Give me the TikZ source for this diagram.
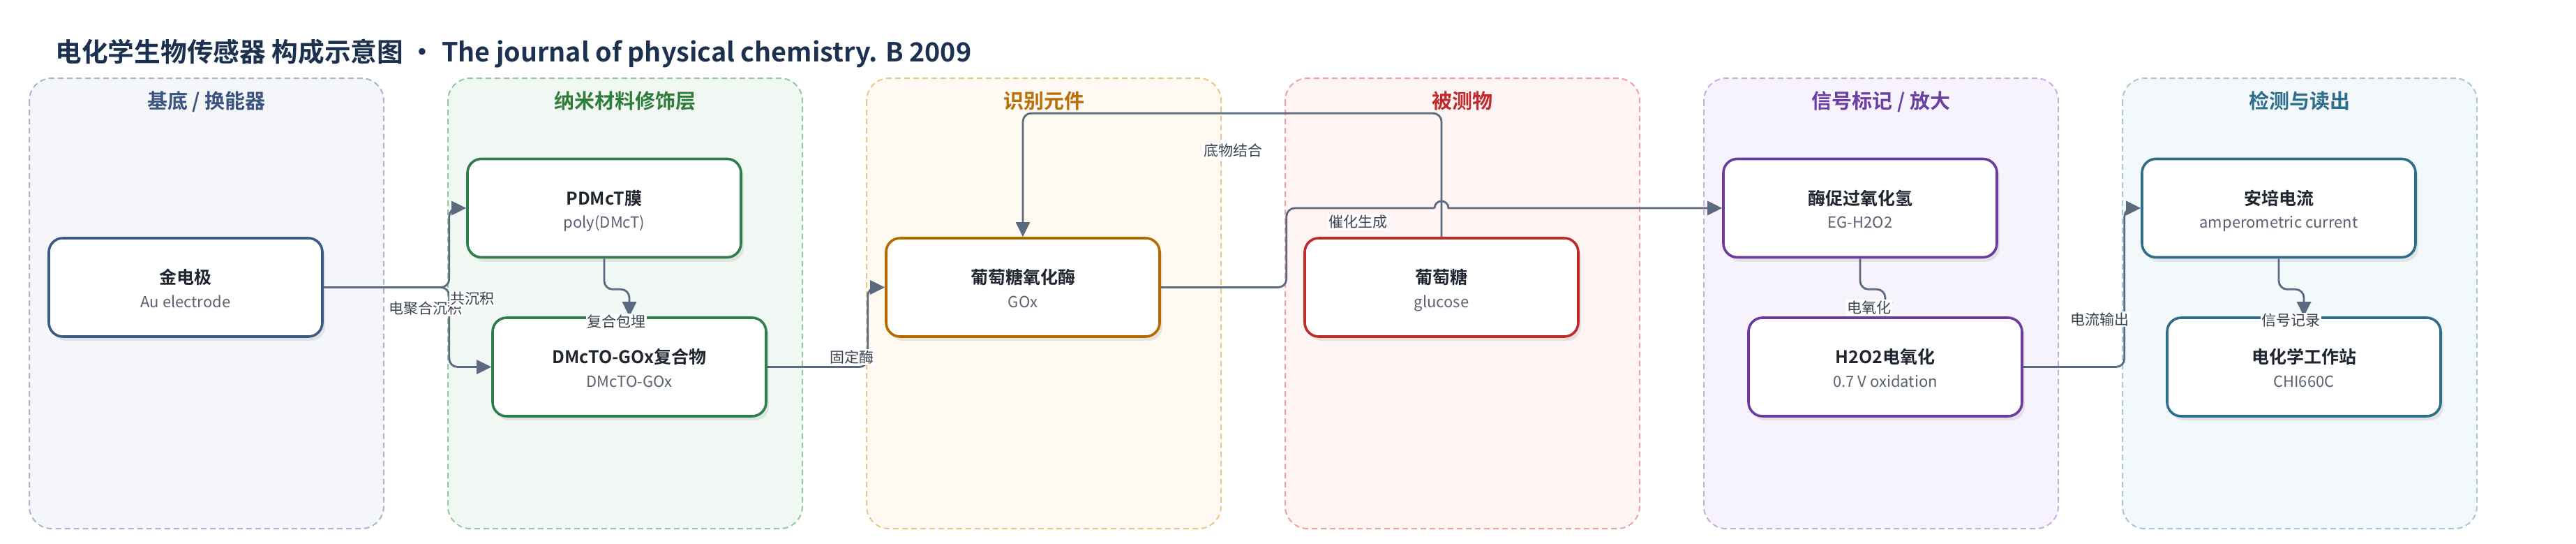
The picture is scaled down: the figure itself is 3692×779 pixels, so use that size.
\documentclass[tikz,border=0pt]{standalone}
\usepackage{fontspec}
\setmainfont{Noto Sans CJK SC}[BoldFont={Noto Sans CJK SC Bold}]
\usetikzlibrary{arrows.meta,shadows}

\definecolor{edgegray}{HTML}{5B6A7F}
\definecolor{titlenavy}{HTML}{1C3150}
\definecolor{boxtxt}{HTML}{1F2630}
\definecolor{subtxt}{HTML}{596271}
\definecolor{lbltxt}{HTML}{3A4250}
% panel colours: fill, dashed line, heading, box border
\definecolor{fillA}{HTML}{F4F6FA}\definecolor{lineA}{HTML}{AAB6CA}\definecolor{headA}{HTML}{3B5580}\definecolor{boxA}{HTML}{3E5A82}
\definecolor{fillB}{HTML}{F1F8F3}\definecolor{lineB}{HTML}{93C9A0}\definecolor{headB}{HTML}{2E7D3A}\definecolor{boxB}{HTML}{2E7D4A}
\definecolor{fillC}{HTML}{FEF9F1}\definecolor{lineC}{HTML}{EBC68C}\definecolor{headC}{HTML}{B8700B}\definecolor{boxC}{HTML}{B36A00}
\definecolor{fillD}{HTML}{FEF4F4}\definecolor{lineD}{HTML}{EBA3A3}\definecolor{headD}{HTML}{C02A2A}\definecolor{boxD}{HTML}{BF2A2A}
\definecolor{fillE}{HTML}{F7F3FC}\definecolor{lineE}{HTML}{C6AEE2}\definecolor{headE}{HTML}{6B3FA3}\definecolor{boxE}{HTML}{6A3C9E}
\definecolor{fillF}{HTML}{F3F8FA}\definecolor{lineF}{HTML}{A9C7D6}\definecolor{headF}{HTML}{2E6E8C}\definecolor{boxF}{HTML}{2F6E88}

\tikzset{
	panel/.style={rounded corners=32pt, line width=2pt, dash pattern=on 8pt off 5pt},
	panelhead/.style={anchor=base, font=\bfseries\fontsize{29}{34}\selectfont},
	sensorbox/.style={draw=#1, line width=3.6pt, rounded corners=20pt, fill=white,
		minimum width=392pt, minimum height=141pt,
		drop shadow={shadow xshift=4pt, shadow yshift=-6pt, opacity=0.16}},
	boxhead/.style={anchor=base, text=boxtxt, font=\bfseries\fontsize{25}{30}\selectfont},
	boxsub/.style={anchor=base, text=subtxt, font=\fontsize{22}{26}\selectfont},
	link/.style={draw=edgegray, line width=2.8pt, rounded corners=12pt, -{Triangle[length=21pt,width=20pt]}},
	linklbl/.style={fill=white, inner sep=1.5pt, text=lbltxt, font=\fontsize{21}{25}\selectfont}
}

% name, colour, position, heading, subtitle
\newcommand\sensornode[5]{%
	\node[sensorbox=#2] (#1) at (#3) {};
	\node[boxhead] (#1-head) at ([yshift=5pt]#1.center) {#4};
	\node[boxsub] (#1-sub) at ([yshift=-28.5pt]#1.center) {#5};
}

\begin{document}
\begin{tikzpicture}[x=1pt, y=-1pt]
		\useasboundingbox (0,0) rectangle (3692,779);
		
		\node[anchor=base west, text=titlenavy, font=\bfseries\fontsize{37.7}{44}\selectfont] (title) at (76,88.7)
			{电化学生物传感器 构成示意图 • The journal of physical chemistry. B 2009};
		
		%%%%% PANELS %%%%%
		\foreach \i/\k/\name in {0/A/{基底 / 换能器}, 1/B/{纳米材料修饰层}, 2/C/{识别元件},
				3/D/{被测物}, 4/E/{信号标记 / 放大}, 5/F/{检测与读出}} {
			\draw[panel, draw=line\k, fill=fill\k] (42+600*\i,112) rectangle ++(508,645);
			\node[panelhead, text=head\k] (head\k) at (296+600*\i,155.5) {\name};
		}
		
		%%%%% BOXES %%%%%
		\sensornode{au}{boxA}{266,411.5}{金电极}{Au electrode}
		\sensornode{pdmct}{boxB}{866,298}{PDMcT膜}{poly(DMcT)}
		\sensornode{comp}{boxB}{902,525.5}{DMcTO-GOx复合物}{DMcTO-GOx}
		\sensornode{gox}{boxC}{1466,411.5}{葡萄糖氧化酶}{GOx}
		\sensornode{glu}{boxD}{2066,411.5}{葡萄糖}{glucose}
		\sensornode{enz}{boxE}{2666,298}{酶促过氧化氢}{EG-H2O2}
		\sensornode{ox}{boxE}{2702,525.5}{H2O2电氧化}{0.7 V oxidation}
		\sensornode{amp}{boxF}{3266,298}{安培电流}{amperometric current}
		\sensornode{chi}{boxF}{3302,525.5}{电化学工作站}{CHI660C}
		
		%%%%% LINKS %%%%%
		\draw[link] (au.east) -- ++(180,0) |- (pdmct.west);
		\draw[link] (au.east) -- ++(180,0) |- (comp.west);
		\draw[link] (pdmct.south) -- ++(0,44) -| (comp.north);
		\draw[link] (comp.east) -- ++(144,0) |- (gox.west);
		\draw[link] (glu.north) -- ++(0,-177) -| (gox.north);
		\coordinate (hop) at (glu.north |- enz.west);
		\draw[link, -] (gox.east) -- ++(180,0) |- ([xshift=-10pt]hop);
		\draw[link, sharp corners] ([xshift=-10pt]hop) arc[start angle=180, end angle=0, radius=10pt] -- (enz.west);
		\draw[link] (enz.south) -- ++(0,44) -| (ox.north);
		\draw[link] (ox.east) -- ++(145,0) |- (amp.west);
		\draw[link] (amp.south) -- ++(0,44) -| (chi.north);
		
		\node[linklbl] (lbl-poly) at (610,442) {电聚合沉积};
		\node[linklbl] (lbl-codep) at (676.5,428) {共沉积};
		\node[linklbl] (lbl-embed) at (883.5,460) {复合包埋};
		\node[linklbl] (lbl-fix) at (1221,511.5) {固定酶};
		\node[linklbl] (lbl-bind) at (1767,216) {底物结合};
		\node[linklbl] (lbl-cat) at (1946,318) {催化生成};
		\node[linklbl] (lbl-eox) at (2678.5,440.5) {电氧化};
		\node[linklbl] (lbl-out) at (3009,457) {电流输出};
		\node[linklbl] (lbl-rec) at (3283,459) {信号记录};
		
	\end{tikzpicture}
\end{document}
